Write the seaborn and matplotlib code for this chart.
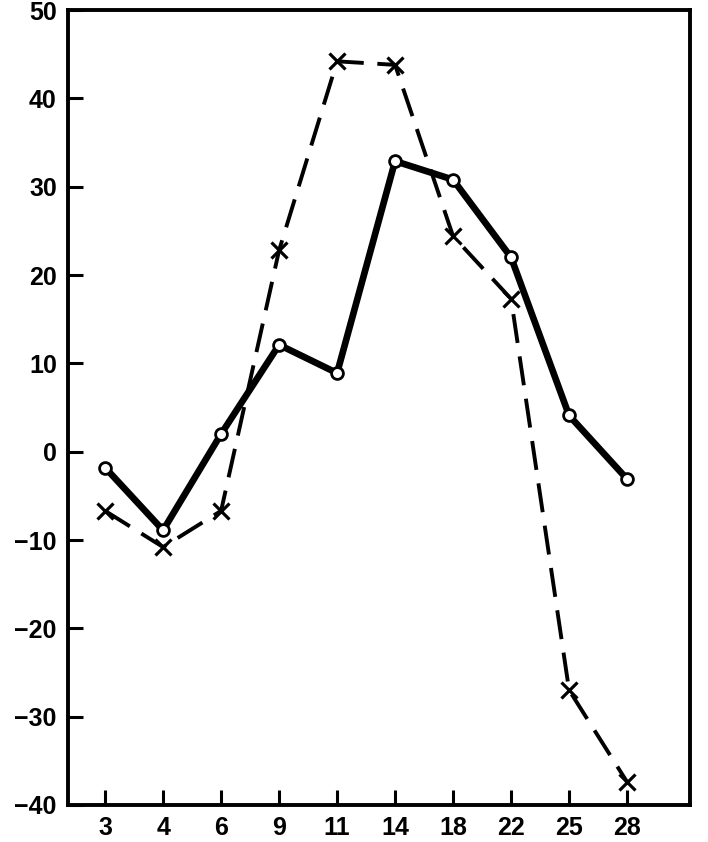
import numpy as np
import pandas as pd
import matplotlib
matplotlib.use("Agg")
import matplotlib.pyplot as plt
import seaborn as sns

# values
days = ["3", "4", "6", "9", "11", "14", "18", "22", "25", "28"]
solid_vals = [-1.8, -8.9, 2.0, 12.1, 8.9, 32.9, 30.8, 22.0, 4.1, -3.1]
dashed_vals = [-6.7, -10.8, -6.7, 22.8, 44.2, 43.8, 24.4, 17.3, -27.0, -37.4]
y_ticks = [-40, -30, -20, -10, 0, 10, 20, 30, 40, 50]

sns.set_style("white")
plt.rcParams["font.family"] = ["Liberation Sans", "DejaVu Sans"]
plt.rcParams["font.weight"] = "bold"

df = pd.DataFrame({
    "pos": np.arange(len(days)),
    "solid": solid_vals,
    "dashed": dashed_vals,
})

fig = plt.figure(figsize=(7.08, 8.42), dpi=100)
ax = fig.add_axes([0.096, 0.044, 0.879, 0.944])

# dashed series with x markers
sns.lineplot(data=df, x="pos", y="dashed", ax=ax, color="black", lw=2.8,
             marker="x", markersize=12, markeredgewidth=2.3,
             markeredgecolor="black", sort=False)
ax.lines[-1].set_dashes([7.5, 3.5])

# solid series with open circles
sns.lineplot(data=df, x="pos", y="solid", ax=ax, color="black", lw=4.8,
             marker="o", markersize=8.5, markerfacecolor="white",
             markeredgecolor="black", markeredgewidth=2.0, sort=False)

ax.set_xlim(-0.64, 10.09)
ax.set_ylim(-40, 50)
ax.set_xticks(df["pos"])
ax.set_xticklabels(days)
ax.set_yticks(y_ticks)
ax.set_xlabel("")
ax.set_ylabel("")

for s in ax.spines.values():
    s.set_linewidth(2.8)
    s.set_color("black")

ax.tick_params(axis="both", direction="in", length=11, width=2.2,
               labelsize=18, colors="black", pad=8)
ax.tick_params(axis="x", bottom=True, top=False)
ax.tick_params(axis="y", left=True, right=False)
for lab in ax.get_xticklabels() + ax.get_yticklabels():
    lab.set_fontweight("bold")

fig.savefig("out.png", dpi=100)
